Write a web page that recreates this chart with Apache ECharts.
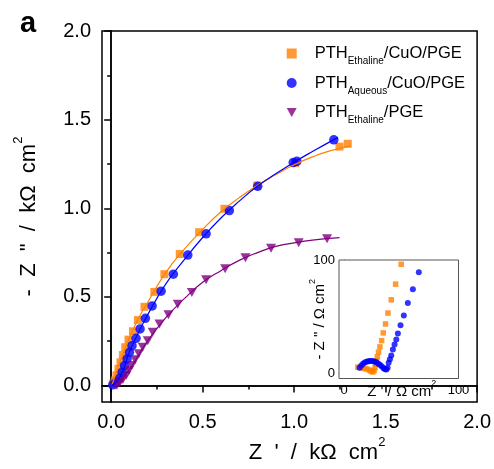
<!DOCTYPE html>
<html>
<head>
<meta charset="utf-8">
<script src="https://cdn.jsdelivr.net/npm/echarts@6/dist/echarts.min.js"></script>
<style>
html,body{margin:0;padding:0;background:#fff;}
#c{width:494px;height:469px;}
</style>
</head>
<body>
<div id="c"></div>
<script>
// ---------- data ----------
var ethCuO = [[0.009,0.010],[0.020,0.028],[0.029,0.057],[0.040,0.094],[0.051,0.131],[0.064,0.172],[0.077,0.216],[0.095,0.259],[0.119,0.306],[0.146,0.369],[0.182,0.444],[0.236,0.528],[0.291,0.628],[0.375,0.742],[0.481,0.865],[0.619,0.997],[0.798,1.128],[1.005,1.255],[1.248,1.348],[1.293,1.364]];
var aqCuO = [[0.009,0.004],[0.028,0.019],[0.046,0.041],[0.060,0.075],[0.073,0.112],[0.087,0.150],[0.100,0.187],[0.114,0.225],[0.136,0.266],[0.158,0.319],[0.187,0.379],[0.224,0.449],[0.273,0.532],[0.340,0.628],[0.419,0.736],[0.519,0.856],[0.646,0.987],[0.801,1.124],[0.995,1.258],[1.015,1.265],[1.217,1.386]];
var ethPGE = [[0.031,0.001],[0.046,0.015],[0.064,0.034],[0.082,0.057],[0.097,0.085],[0.113,0.113],[0.131,0.145],[0.151,0.179],[0.172,0.216],[0.200,0.253],[0.227,0.300],[0.264,0.347],[0.313,0.399],[0.364,0.459],[0.441,0.525],[0.519,0.596],[0.623,0.659],[0.734,0.721],[0.874,0.774],[1.025,0.806],[1.180,0.828]];

var fitEthCuO = [[0.005,0.005],[0.05,0.14],[0.1,0.27],[0.15,0.38],[0.2,0.47],[0.3,0.64],[0.4,0.77],[0.5,0.88],[0.6,0.98],[0.7,1.06],[0.8,1.13],[0.9,1.19],[1.0,1.245],[1.1,1.29],[1.2,1.325],[1.311,1.352]];
var fitAqCuO = [[0.005,0.003],[0.05,0.05],[0.1,0.19],[0.15,0.30],[0.2,0.40],[0.3,0.575],[0.4,0.71],[0.5,0.835],[0.6,0.945],[0.7,1.04],[0.8,1.125],[0.9,1.195],[1.0,1.26],[1.1,1.32],[1.24,1.40]];
var fitEthPGE = [[0.03,0.0],[0.1,0.09],[0.2,0.253],[0.3,0.384],[0.4,0.49],[0.5,0.582],[0.6,0.648],[0.7,0.706],[0.8,0.75],[0.9,0.785],[1.0,0.805],[1.1,0.82],[1.248,0.834]];

var insetEthCuO = [[12,5.5],[14,5.2],[16,4.8],[18,4.3],[20,3.8],[22,3],[23.5,2],[25,1.2],[26.2,2.5],[27,5],[27.6,8],[28.2,11],[29,14.6],[30,18.7],[31.3,23.4],[32.8,28.9],[34.2,35.7],[36.2,43.6],[38.3,53.2],[41.2,64.9],[45,78.7],[49.9,96.2]];
var insetAqCuO = [[13.5,5],[15,7],[16.5,8.5],[18,9.5],[19.5,10.3],[21,10.8],[22.5,11],[24,11],[25.5,10.8],[27,10.3],[28.5,9.5],[30,8.5],[31.5,7.3],[33,6],[34.5,4.6],[35.8,3.6],[37,3.5],[38,5],[38.9,9.4],[40,12.5],[41.2,15.8],[42.6,21],[44.1,25.4],[45.6,29.8],[47,35.1],[49.3,42.4],[52.2,51.1],[55.7,62],[60.1,74.3],[65.3,89.2]];

var seriesNames = ['PTH_Ethaline/CuO/PGE','PTH_Aqueous/CuO/PGE','PTH_Ethaline/PGE'];
var mainMajorTicks = [0,0.5,1,1.5,2];
var mainMinorTicks = [0.25,0.75,1.25,1.75];
var mainBoxTicks = [0.25,0.5,0.75,1,1.25,1.5,1.75];
var insetLabels = [0,100];
var insetTicks = [0,50,100];

// ---------- chart ----------
var FONT = 'Liberation Sans, Arial, sans-serif';
var C_OR = '#FF8000', C_BL = '#0000FF', C_PU = '#800080';
var DOWN_TRI = 'path://M0,0L10,0L5,9Z';
var chart = echarts.init(document.getElementById('c'), null, {renderer:'canvas'});

function supName(t, big, small, lh){
  return {
    text: '{t|' + t + '}{s|2}',
    rich: {
      t: {fontSize: big, fontFamily: FONT, color:'#000', lineHeight: lh},
      s: {fontSize: small, fontFamily: FONT, color:'#000', verticalAlign:'top', lineHeight: Math.round(small*0.55)}
    }
  };
}
var xName = supName("Z  '  /  k\u03A9  cm", 22, 13, 34);
var yName = supName('-  Z  "  /  k\u03A9  cm', 22, 13, 34);
var ixName = supName("Z ' / \u03A9 cm", 15, 9, 24);
var iyName = supName('- Z " / \u03A9 cm', 15, 9, 24);

var blk = {color:'#000', width:1.5};
var option = {
  animation: false,
  backgroundColor: '#fff',
  title: {text:'a', left: 20, top: 9, padding:0, textStyle:{fontSize:29, fontWeight:'bold', fontFamily: FONT, color:'#000'}},
  grid: [
    {left:102, top:31, width:376, height:373, show:true, borderColor:'#000', borderWidth:1.5, backgroundColor:'transparent'},
    {left:339, top:260, width:119.5, height:118.5, show:true, borderColor:'#555', borderWidth:1, backgroundColor:'#fff', z:3}
  ],
  legend: {
    orient:'vertical', left: 286.7, top: 45, padding: 0, itemGap: 8,
    itemWidth: 10, itemHeight: 10, selectedMode: false,
    data: [
      {name: seriesNames[0], icon:'rect'},
      {name: seriesNames[1], icon:'circle'},
      {name: seriesNames[2], icon: DOWN_TRI}
    ],
    formatter: function(n){
      var m = n.match(/^PTH_(\w+)(\/.*)$/);
      return '{m|PTH}{s|' + m[1] + '}{m|' + m[2] + '}';
    },
    textStyle: {
      fontSize: 16.5, fontFamily: FONT, color:'#000', padding:[0,0,0,13],
      rich: {
        m: {fontSize:16.5, fontFamily: FONT, color:'#000', lineHeight: 26},
        s: {fontSize:10, fontFamily: FONT, color:'#000', lineHeight: 10, verticalAlign:'bottom'}
      }
    }
  },
  xAxis: [
    {gridIndex:0, type:'value', min:-0.05, max:2, position:'bottom',
     axisLine:{show:true, lineStyle:blk}, splitLine:{show:false},
     axisTick:{show:true, customValues: mainMajorTicks, length:7, lineStyle:blk},
     axisLabel:{customValues: mainMajorTicks, formatter:function(v){return v.toFixed(1);}, fontSize:20, fontFamily:FONT, color:'#000', margin:10},
     name: xName.text, nameLocation:'middle', nameGap: 34, nameMoveOverlap:false,
     nameTextStyle:{rich: xName.rich, padding:[0,0,0,55]}},
    {gridIndex:0, type:'value', min:-0.05, max:2, position:'bottom',
     axisLine:{show:false}, splitLine:{show:false},
     axisTick:{show:true, customValues: mainMinorTicks, length:4, lineStyle:blk},
     axisLabel:{show:false, customValues: mainMinorTicks}},
    {gridIndex:0, type:'value', min:-0.05, max:2, position:'top',
     axisLine:{show:true, lineStyle:blk}, splitLine:{show:false},
     axisTick:{show:true, inside:true, customValues: mainBoxTicks, length:4, lineStyle:blk},
     axisLabel:{show:false, customValues: mainBoxTicks}},
    {gridIndex:1, type:'value', min:-4.5, max:100, position:'bottom',
     axisLine:{show:true, lineStyle:{color:'#555', width:1}}, splitLine:{show:false},
     axisTick:{show:true, customValues: insetTicks, length:3, lineStyle:{color:'#555', width:1}},
     axisLabel:{customValues: insetLabels, fontSize:13, fontFamily:FONT, color:'#000', margin:5},
     name: ixName.text, nameLocation:'middle', nameGap: 1, nameMoveOverlap:false,
     nameTextStyle:{rich: ixName.rich, padding:[0,0,0,6]}}
  ],
  yAxis: [
    {gridIndex:0, type:'value', min:-0.093, max:2, position:'left',
     axisLine:{show:true, lineStyle:blk}, splitLine:{show:false},
     axisTick:{show:true, customValues: mainMajorTicks, length:7, lineStyle:blk},
     axisLabel:{customValues: mainMajorTicks, formatter:function(v){return v.toFixed(1);}, fontSize:20, fontFamily:FONT, color:'#000', margin:11},
     name: yName.text, nameLocation:'middle', nameGap: 56, nameMoveOverlap:false,
     nameTextStyle:{rich: yName.rich}},
    {gridIndex:0, type:'value', min:-0.093, max:2, position:'left',
     axisLine:{show:false}, splitLine:{show:false},
     axisTick:{show:true, customValues: mainMinorTicks, length:4, lineStyle:blk},
     axisLabel:{show:false, customValues: mainMinorTicks}},
    {gridIndex:0, type:'value', min:-0.093, max:2, position:'right',
     axisLine:{show:true, lineStyle:blk}, splitLine:{show:false},
     axisTick:{show:true, inside:true, customValues: mainBoxTicks, length:4, lineStyle:blk},
     axisLabel:{show:false, customValues: mainBoxTicks}},
    {gridIndex:1, type:'value', min:-4.5, max:100, position:'left',
     axisLine:{show:true, lineStyle:{color:'#555', width:1}}, splitLine:{show:false},
     axisTick:{show:true, customValues: insetTicks, length:3, lineStyle:{color:'#555', width:1}},
     axisLabel:{customValues: insetLabels, fontSize:13, fontFamily:FONT, color:'#000', margin:4},
     name: iyName.text, nameLocation:'middle', nameGap: 7, nameMoveOverlap:false,
     nameTextStyle:{rich: iyName.rich}}
  ],
  series: [
    {name: seriesNames[0], type:'scatter', xAxisIndex:0, yAxisIndex:0, data: ethCuO, symbol:'rect', symbolSize:8, itemStyle:{color:C_OR}, z:3},
    {name: seriesNames[1], type:'scatter', xAxisIndex:0, yAxisIndex:0, data: aqCuO, symbol:'circle', symbolSize:9.5, itemStyle:{color:C_BL}, z:3},
    {name: seriesNames[2], type:'scatter', xAxisIndex:0, yAxisIndex:0, data: ethPGE, symbol: DOWN_TRI, symbolSize:[10,9], itemStyle:{color:C_PU}, z:3},
    {name:'fit1', type:'line', xAxisIndex:0, yAxisIndex:0, data: fitEthCuO, smooth:true, showSymbol:false, lineStyle:{color:C_OR, width:1.2}, z:4},
    {name:'fit2', type:'line', xAxisIndex:0, yAxisIndex:0, data: fitAqCuO, smooth:true, showSymbol:false, lineStyle:{color:C_BL, width:1.2}, z:4},
    {name:'fit3', type:'line', xAxisIndex:0, yAxisIndex:0, data: fitEthPGE, smooth:true, showSymbol:false, lineStyle:{color:C_PU, width:1.2}, z:4},
    {name:'inset1', type:'scatter', xAxisIndex:3, yAxisIndex:3, data: insetEthCuO, symbol:'rect', symbolSize:5.5, itemStyle:{color:C_OR}, z:5},
    {name:'inset2', type:'scatter', xAxisIndex:3, yAxisIndex:3, data: insetAqCuO, symbol:'circle', symbolSize:6, itemStyle:{color:C_BL}, z:6}
  ]
};
chart.setOption(option);
</script>
</body>
</html>
